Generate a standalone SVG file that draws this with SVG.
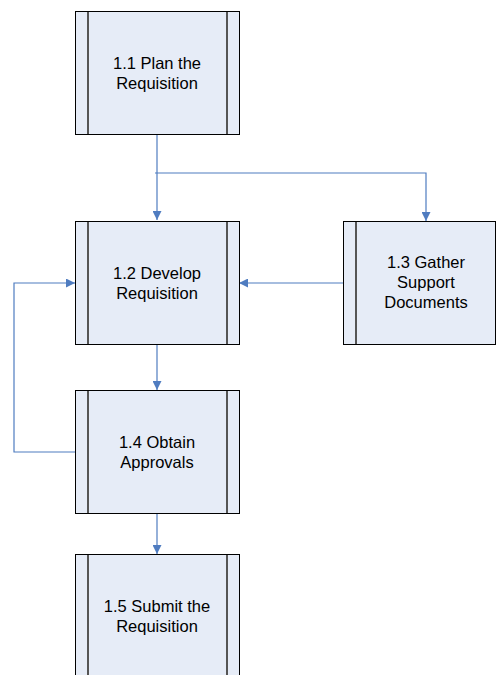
<svg xmlns="http://www.w3.org/2000/svg" width="496" height="675" viewBox="0 0 496 675">
  <style>
    .box { fill: #E6ECF7; stroke: #000; stroke-width: 1; }
    .bar { stroke: #555; stroke-width: 2; }
    .lbl { font-family: "Liberation Sans", Arial, sans-serif; font-size: 16.5px; fill: #000; text-anchor: middle; }
    .wire { fill: none; stroke: #4F7CC0; stroke-width: 1.2; }
  </style>
  <defs>
    <marker id="arr" viewBox="0 0 10 10" refX="10" refY="5" markerWidth="9" markerHeight="9" markerUnits="userSpaceOnUse" orient="auto">
      <path d="M0,0 L10,5 L0,10 z" fill="#4F7CC0"/>
    </marker>
  </defs>
  <rect width="496" height="675" fill="#fff"/>

  <g id="connectors">
    <path class="wire" d="M157,135 V220" marker-end="url(#arr)"/>
    <path class="wire" d="M155,173 H426 V221" marker-end="url(#arr)"/>
    <path class="wire" d="M343,283 H239" marker-end="url(#arr)"/>
    <path class="wire" d="M157,345 V390" marker-end="url(#arr)"/>
    <path class="wire" d="M75,452 H14 V283 H75" marker-end="url(#arr)"/>
    <path class="wire" d="M157,513 V554" marker-end="url(#arr)"/>
  </g>

  <g id="n11">
    <rect class="box" x="75.5" y="11.5" width="164" height="123"/>
    <line class="bar" x1="88" y1="12" x2="88" y2="134"/>
    <line class="bar" x1="227" y1="12" x2="227" y2="134"/>
    <text class="lbl" x="157" y="69">1.1 Plan the</text>
    <text class="lbl" x="157" y="89">Requisition</text>
  </g>

  <g id="n12">
    <rect class="box" x="75.5" y="221.5" width="164" height="123"/>
    <line class="bar" x1="88" y1="222" x2="88" y2="344"/>
    <line class="bar" x1="227" y1="222" x2="227" y2="344"/>
    <text class="lbl" x="157" y="279">1.2 Develop</text>
    <text class="lbl" x="157" y="299">Requisition</text>
  </g>

  <g id="n13">
    <rect class="box" x="343.5" y="221.5" width="152" height="123"/>
    <line class="bar" x1="356" y1="222" x2="356" y2="344"/>
    <text class="lbl" x="426" y="268">1.3 Gather</text>
    <text class="lbl" x="426" y="288">Support</text>
    <text class="lbl" x="426" y="308">Documents</text>
  </g>

  <g id="n14">
    <rect class="box" x="75.5" y="390.5" width="164" height="123"/>
    <line class="bar" x1="88" y1="391" x2="88" y2="513"/>
    <line class="bar" x1="227" y1="391" x2="227" y2="513"/>
    <text class="lbl" x="157" y="448">1.4 Obtain</text>
    <text class="lbl" x="157" y="468">Approvals</text>
  </g>

  <g id="n15">
    <rect class="box" x="75.5" y="554.5" width="164" height="123"/>
    <line class="bar" x1="88" y1="555" x2="88" y2="677"/>
    <line class="bar" x1="227" y1="555" x2="227" y2="677"/>
    <text class="lbl" x="157" y="612">1.5 Submit the</text>
    <text class="lbl" x="157" y="632">Requisition</text>
  </g>
</svg>
